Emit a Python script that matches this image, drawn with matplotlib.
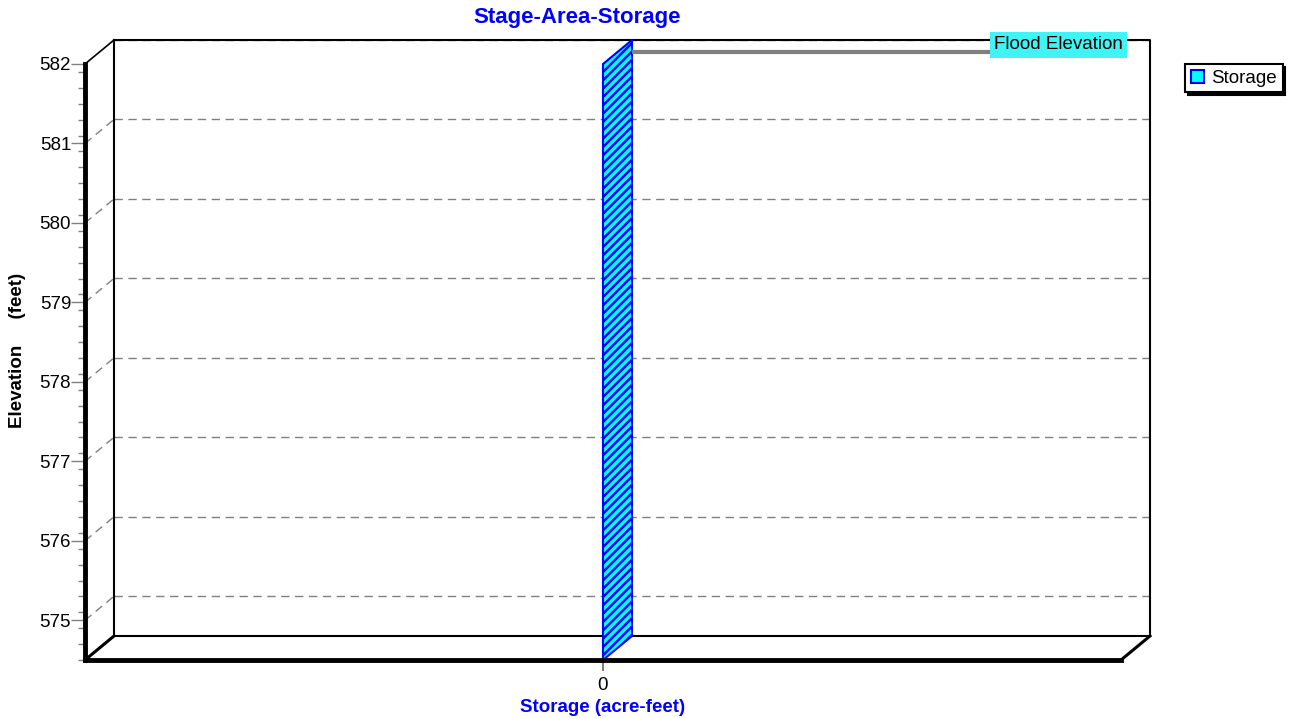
import numpy as np
import matplotlib
matplotlib.use("Agg")
import matplotlib.pyplot as plt
from matplotlib import transforms
from matplotlib.patches import Polygon, Patch

# ── chart data ──────────────────────────────────────────────
categories = ["0"]               # storage (acre-feet)
stage_top = [582.0]              # elevation reached by the storage bar (feet)
elev_min, elev_max = 574.5, 582.0
elev_ticks = [575, 576, 577, 578, 579, 580, 581, 582]
flood_elevation = 581.85
flood_label = "Flood Elevation"

# ── pseudo-3D styling ───────────────────────────────────────
DX, DY = 29, 24                  # depth offset of the back wall (pixels)
CYAN = "#00ffff"
BLUE = "#0000ff"
GRID = "#808080"

plt.rcParams["font.family"] = ["Liberation Sans", "DejaVu Sans"]
plt.rcParams["hatch.linewidth"] = 1.8
plt.rcParams["hatch.color"] = BLUE

W, H = 1294, 719
fig = plt.figure(figsize=(W / 100, H / 100), dpi=100)
ax = fig.add_axes([85 / W, (H - 660) / H, (1121 - 85) / W, (660 - 64) / H])
ax.set_xlim(-0.5, 0.5)
ax.set_ylim(elev_min, elev_max)
xmin, xmax = ax.get_xlim()

back = transforms.offset_copy(ax.transData, fig=fig, x=DX, y=DY, units="dots")
ident = transforms.IdentityTransform()


def depth_line(x, y, **kw):
    # segment from the front plane to the back wall at data point (x, y)
    p = ax.transData.transform((x, y))
    ax.plot([p[0], p[0] + DX], [p[1], p[1] + DY], transform=ident,
            clip_on=False, **kw)


# back wall grid and the dashed depth lines joining it to the axis
for y in elev_ticks:
    ax.plot([xmin, xmax], [y, y], transform=back, color=GRID, lw=1,
            dashes=(6, 4), clip_on=False, zorder=1)
    if y < elev_max:
        depth_line(xmin, y, color=GRID, lw=1, dashes=(6, 4), zorder=1)

# back wall outline
ax.plot([xmin, xmax, xmax, xmin, xmin], [elev_max, elev_max, elev_min, elev_min, elev_max],
        transform=back, color="black", lw=1.5, clip_on=False, zorder=2)
depth_line(xmin, elev_max, color="black", lw=1.2, zorder=2)
depth_line(xmin, elev_min, color="black", lw=2.2, zorder=4)
depth_line(xmax, elev_min, color="black", lw=2.2, zorder=4)

# storage bar drawn as its side face running from front to back
for i, (cat, top) in enumerate(zip(categories, stage_top)):
    x = i
    f0 = ax.transData.transform((x, elev_min))
    f1 = ax.transData.transform((x, top))
    pts = [f0, f0 + (DX, DY), f1 + (DX, DY), f1]
    ax.add_patch(Polygon(pts, closed=True, transform=ident, facecolor=CYAN,
                         edgecolor=BLUE, lw=1.5, hatch="////", clip_on=False, zorder=5))

# flood elevation marker on the back wall
label_x = 0.3455
ax.plot([0, label_x], [flood_elevation, flood_elevation], transform=back,
        color=GRID, lw=3, clip_on=False, zorder=6, solid_capstyle="butt")
ax.annotate(flood_label, xy=(label_x, flood_elevation), xycoords=back,
            xytext=(4, 7), textcoords="offset pixels", ha="left", va="center",
            fontsize=13.5, color="black", zorder=7,
            bbox=dict(boxstyle="square,pad=0.22", facecolor="#3ff4f4", edgecolor="none"))

# front axes: heavy left axis and floor edge
for side in ("top", "right"):
    ax.spines[side].set_visible(False)
ax.spines["left"].set_linewidth(3.5)
ax.spines["bottom"].set_linewidth(3.5)
ax.spines["left"].set_zorder(8)
ax.spines["bottom"].set_zorder(8)
ax.patch.set_visible(False)

ax.set_yticks(elev_ticks)
ax.set_yticks(np.arange(elev_min, elev_max + 0.001, 0.2), minor=True)
ax.tick_params(axis="y", which="major", length=10, width=1, color=GRID,
               labelsize=13.5, pad=0)
ax.tick_params(axis="y", which="minor", length=5, width=1, color=GRID)
ax.set_xticks(range(len(categories)))
ax.set_xticklabels(categories)
ax.tick_params(axis="x", which="major", length=8, width=1.5, color=GRID,
               labelsize=13.5, pad=4)

ax.set_xlabel("Storage (acre-feet)", fontsize=13.5, fontweight="bold", color=BLUE,
              labelpad=4)
fig.text(18 / W, 1 - 350 / H, "Elevation     (feet)", rotation=90, ha="center",
         va="center", fontsize=13.5, fontweight="bold")
fig.text(577 / W, 1 - 17 / H, "Stage-Area-Storage", ha="center", va="center",
         fontsize=16, fontweight="bold", color=BLUE)

leg = ax.legend(handles=[Patch(facecolor=CYAN, edgecolor=BLUE, lw=1.5)],
                labels=["Storage"], loc="upper left",
                bbox_to_anchor=(1185 / W, 1 - 64 / H), bbox_transform=fig.transFigure,
                borderaxespad=0, fancybox=False, edgecolor="black", framealpha=1,
                fontsize=13.5, handlelength=0.7, handleheight=0.7, handletextpad=0.4,
                borderpad=0.3, shadow={"color": "black", "alpha": 1})
leg.get_frame().set_linewidth(1.5)

fig.savefig("out.png", dpi=100)
